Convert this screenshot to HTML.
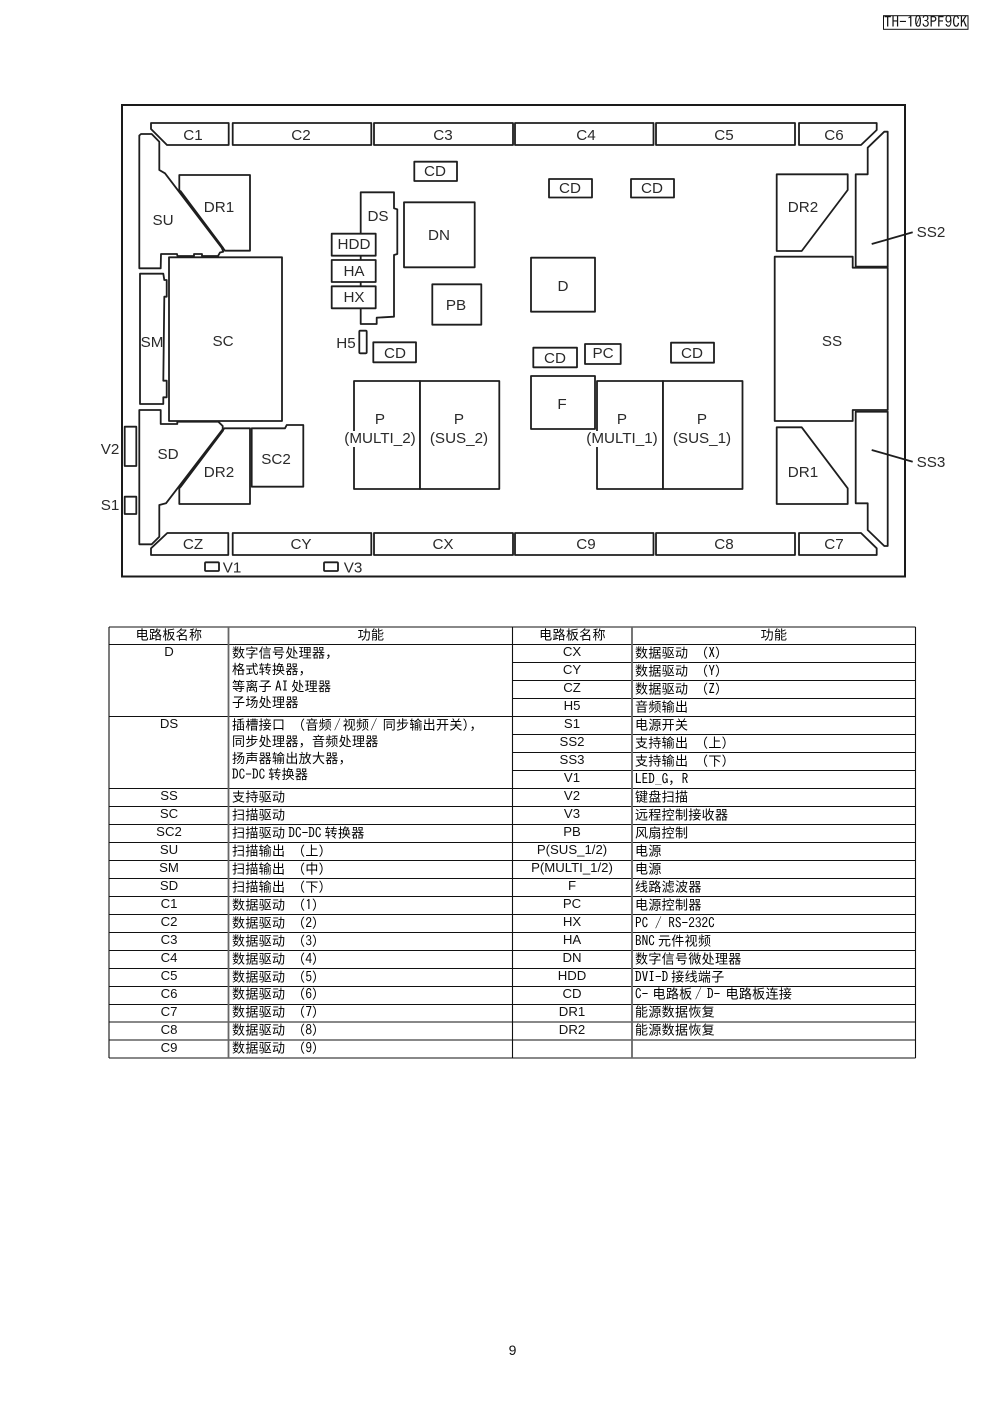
<!DOCTYPE html>
<html><head><meta charset="utf-8">
<style>
html,body{margin:0;padding:0;background:#fff;width:992px;height:1404px;overflow:hidden}
svg{display:block}
.s{fill:#fff;stroke:#1e1e1e;stroke-width:1.8;stroke-linejoin:round}
.n{fill:none;stroke:#1e1e1e;stroke-width:1.8}
.d text{font:15.2px "Liberation Sans",sans-serif;fill:#2a2a2a;text-anchor:middle}
.t line{stroke:#111;stroke-width:1.1}
.n1 text{font:13.2px "Liberation Sans",sans-serif;fill:#111;text-anchor:middle}
.c text{font:13px "WenQuanYi Zen Hei","Noto Sans CJK SC",sans-serif;letter-spacing:.33px;fill:#000;white-space:pre}
.c text.m{text-anchor:middle}
.l{font:13.3px "IPAGothic","Liberation Mono",monospace;letter-spacing:0}
.g{font:6px "IPAGothic","Liberation Mono",monospace;letter-spacing:0}
</style></head>
<body>
<svg width="992" height="1404" viewBox="0 0 992 1404" xmlns="http://www.w3.org/2000/svg">
<!-- header -->
<rect x="883.5" y="15.7" width="84.5" height="13.6" fill="#fff" stroke="#111" stroke-width="1"/>
<text x="925.7" y="27.5" text-anchor="middle" style="font:15.2px 'IPAGothic','Liberation Mono',monospace;fill:#111">TH-103PF9CK</text>
<!-- frame -->
<rect x="122" y="105" width="783" height="471.5" fill="#fff" stroke="#1a1a1a" stroke-width="2"/>
<!-- top row -->
<polygon class="s" points="151,123 228.7,123 228.7,145 167,145 151,129"/>
<rect class="s" x="232.7" y="123" width="138.6" height="22"/>
<rect class="s" x="374" y="123" width="139" height="22"/>
<rect class="s" x="515" y="123" width="138.5" height="22"/>
<rect class="s" x="656" y="123" width="139" height="22"/>
<polygon class="s" points="799,123 876.7,123 876.7,130 861,145 799,145"/>
<!-- bottom row -->
<polygon class="s" points="167.3,533 228.3,533 228.3,555 151,555 151,548.3"/>
<rect class="s" x="232.7" y="533" width="138.6" height="22"/>
<rect class="s" x="374" y="533" width="139" height="22"/>
<rect class="s" x="515" y="533" width="138.5" height="22"/>
<rect class="s" x="656" y="533" width="139" height="22"/>
<polygon class="s" points="799,533 861,533 876.7,548.3 876.7,555 799,555"/>
<!-- left side -->
<polygon class="s" points="139.3,135.5 141,134 151.7,134 159.3,141.7 159.3,170 165,173.3 221.7,247.7 223.3,251.7 220,252.5 218,256 202,256 202,254 194,254 194,256 177.5,256 177,254 161,254 160.7,268.3 139.3,268.3"/>
<polygon class="s" points="179.3,175 250,175 250,250.7 225,250.7 179.3,190"/>
<line class="n" x1="180" y1="191" x2="223" y2="248.5" style="stroke-width:2.6"/>
<polygon class="s" points="140,273.7 163.3,273.7 164.3,280 166.7,280 166.7,296.7 164.3,296.7 163.3,380.7 166.7,380.7 166.7,397.3 163.3,397.3 163.3,404 140,404"/>
<rect class="s" x="169" y="257.3" width="113" height="163.7"/>
<polygon class="s" points="139.3,410 160.7,410 160.7,424 177.3,424 177.3,421.7 218.3,421.7 222.7,426 222.7,429.3 166,503.3 159.3,505 159.3,536.7 151.7,544.3 139.3,544.3"/>
<polygon class="s" points="224.3,428.3 250,428.3 250,504 179.3,504 179.3,488.3"/>
<line class="n" x1="223" y1="430" x2="180" y2="487" style="stroke-width:2.6"/>
<polygon class="s" points="251.7,428.3 285,428.3 286.7,425 303.3,425 303.3,486.7 251.7,486.7"/>
<rect class="s" x="124.7" y="426.7" width="11.6" height="39.3"/>
<rect class="s" x="124.7" y="496.7" width="11.6" height="17.3"/>
<rect class="s" x="205" y="562.3" width="14" height="8.7" rx="1"/>
<rect class="s" x="324" y="562.3" width="14" height="8.7" rx="1"/>
<!-- center left -->
<polygon class="s" points="360.7,192.3 394,192.3 394,208.3 397.3,209.3 397.3,254 394,255 394,316.7 376.7,317.7 376.7,324 360.7,324"/>
<rect class="s" x="331.7" y="233.7" width="44" height="22"/>
<rect class="s" x="331.7" y="260" width="44" height="22"/>
<rect class="s" x="331.7" y="286.3" width="44" height="22"/>
<rect class="s" x="404" y="202.3" width="70.7" height="65"/>
<rect class="s" x="432.3" y="284.3" width="49" height="40.4"/>
<rect class="s" x="414.3" y="161.7" width="42.7" height="19.3"/>
<rect class="s" x="359.3" y="330.7" width="7.4" height="22.6" rx="1"/>
<rect class="s" x="373.3" y="342.3" width="42.7" height="20"/>
<rect class="s" x="549" y="179" width="43" height="18.5"/>
<rect class="s" x="631" y="179" width="43" height="18.5"/>
<rect class="s" x="531" y="257.7" width="64" height="54"/>
<rect class="s" x="533.3" y="347.7" width="43.7" height="19.6"/>
<rect class="s" x="585" y="344" width="35.7" height="20"/>
<rect class="s" x="671" y="342.7" width="43" height="20"/>
<rect class="s" x="597" y="381" width="66" height="108"/>
<rect class="s" x="663" y="381" width="79.5" height="108"/>
<rect class="s" x="531" y="376" width="64" height="53"/>
<rect class="s" x="354" y="381" width="66" height="108"/>
<rect class="s" x="420" y="381" width="79.3" height="108"/>
<!-- right side -->
<polygon class="s" points="855.7,174.3 867.7,174.3 867.7,147.7 884.3,131.7 887.7,131.7 887.7,266.7 855.7,266.7"/>
<polygon class="s" points="774.7,256.7 852.7,256.7 852.7,267.7 887.7,267.7 887.7,410 852.7,410 852.7,421 774.7,421"/>
<polygon class="s" points="855.7,411.7 887.7,411.7 887.7,546 884.3,546 867.7,530 867.7,503.3 855.7,503.3"/>
<polygon class="s" points="776.7,174.3 847.7,174.3 847.7,190 801.7,251 776.7,251"/>
<polygon class="s" points="776.7,427.3 801.7,427.3 847.7,488.3 847.7,504 776.7,504"/>
<line class="n" x1="871.7" y1="244" x2="912.7" y2="232.3"/>
<line class="n" x1="871.7" y1="450" x2="912.7" y2="461.7"/>
<!-- label backgrounds -->
<rect x="345" y="431" width="72" height="16" fill="#fff"/>
<rect x="587" y="431" width="72" height="16" fill="#fff"/>
<!-- diagram labels -->
<g class="d">
<text x="193" y="140">C1</text><text x="301" y="140">C2</text><text x="443" y="140">C3</text><text x="586" y="140">C4</text><text x="724" y="140">C5</text><text x="834" y="140">C6</text>
<text x="193" y="549">CZ</text><text x="301" y="549">CY</text><text x="443" y="549">CX</text><text x="586" y="549">C9</text><text x="724" y="549">C8</text><text x="834" y="549">C7</text>
<text x="163" y="225">SU</text><text x="219" y="212">DR1</text><text x="223" y="346">SC</text><text x="152" y="347">SM</text>
<text x="378" y="221">DS</text><text x="354" y="249">HDD</text><text x="354" y="276">HA</text><text x="354" y="302">HX</text>
<text x="439" y="240">DN</text><text x="456" y="310">PB</text><text x="435" y="176">CD</text><text x="570" y="193">CD</text><text x="652" y="193">CD</text>
<text x="395" y="358">CD</text><text x="555" y="363">CD</text><text x="603" y="358">PC</text><text x="692" y="358">CD</text>
<text x="563" y="291">D</text><text x="562" y="409">F</text><text x="832" y="346">SS</text>
<text x="803" y="212">DR2</text><text x="803" y="477">DR1</text><text x="931" y="237">SS2</text><text x="931" y="467">SS3</text>
<text x="346" y="348">H5</text><text x="110" y="454">V2</text><text x="110" y="510">S1</text>
<text x="168" y="459">SD</text><text x="219" y="477">DR2</text><text x="276" y="464">SC2</text>
<text x="232" y="572.5">V1</text><text x="353" y="572.5">V3</text>
<text x="380" y="424">P</text><text x="380" y="443">(MULTI_2)</text>
<text x="459" y="424">P</text><text x="459" y="443">(SUS_2)</text>
<text x="622" y="424">P</text><text x="622" y="443">(MULTI_1)</text>
<text x="702" y="424">P</text><text x="702" y="443">(SUS_1)</text>
</g>
<!-- table lines -->
<g class="t">
<line x1="109" y1="627" x2="915.5" y2="627"/><line x1="109" y1="644.5" x2="915.5" y2="644.5"/>
<line x1="512.5" y1="662.5" x2="915.5" y2="662.5"/><line x1="512.5" y1="680.5" x2="915.5" y2="680.5"/><line x1="512.5" y1="698.5" x2="915.5" y2="698.5"/>
<line x1="109" y1="716.5" x2="915.5" y2="716.5"/>
<line x1="512.5" y1="734.5" x2="915.5" y2="734.5"/><line x1="512.5" y1="752.5" x2="915.5" y2="752.5"/><line x1="512.5" y1="770.5" x2="915.5" y2="770.5"/>
<line x1="109" y1="788.5" x2="915.5" y2="788.5"/><line x1="109" y1="806.5" x2="915.5" y2="806.5"/><line x1="109" y1="824.5" x2="915.5" y2="824.5"/>
<line x1="109" y1="842.5" x2="915.5" y2="842.5"/><line x1="109" y1="860.5" x2="915.5" y2="860.5"/><line x1="109" y1="878.5" x2="915.5" y2="878.5"/>
<line x1="109" y1="896.5" x2="915.5" y2="896.5"/><line x1="109" y1="914.5" x2="915.5" y2="914.5"/><line x1="109" y1="932.5" x2="915.5" y2="932.5"/>
<line x1="109" y1="950.5" x2="915.5" y2="950.5"/><line x1="109" y1="968.5" x2="915.5" y2="968.5"/><line x1="109" y1="986.5" x2="915.5" y2="986.5"/>
<line x1="109" y1="1004.5" x2="915.5" y2="1004.5"/><line x1="109" y1="1022" x2="915.5" y2="1022"/><line x1="109" y1="1040" x2="915.5" y2="1040"/>
<line x1="109" y1="1058" x2="915.5" y2="1058"/>
<line x1="109" y1="627" x2="109" y2="1058"/><line x1="915.5" y1="627" x2="915.5" y2="1058"/><line x1="512.5" y1="627" x2="512.5" y2="1058"/>
<line x1="228.5" y1="627" x2="228.5" y2="1058" style="stroke:#666;stroke-width:1.8"/>
<line x1="632" y1="627" x2="632" y2="1058" style="stroke:#666;stroke-width:1.8"/>
</g>
<!-- table name columns -->
<g class="n1">
<text x="169" y="656">D</text><text x="169" y="728">DS</text><text x="169" y="800">SS</text><text x="169" y="818">SC</text><text x="169" y="836">SC2</text><text x="169" y="854">SU</text><text x="169" y="872">SM</text><text x="169" y="890">SD</text><text x="169" y="908">C1</text><text x="169" y="926">C2</text><text x="169" y="944">C3</text><text x="169" y="962">C4</text><text x="169" y="980">C5</text><text x="169" y="998">C6</text><text x="169" y="1016">C7</text><text x="169" y="1034">C8</text><text x="169" y="1052">C9</text>
<text x="572" y="656">CX</text><text x="572" y="674">CY</text><text x="572" y="692">CZ</text><text x="572" y="710">H5</text><text x="572" y="728">S1</text><text x="572" y="746">SS2</text><text x="572" y="764">SS3</text><text x="572" y="782">V1</text><text x="572" y="800">V2</text><text x="572" y="818">V3</text><text x="572" y="836">PB</text><text x="572" y="854">P(SUS_1/2)</text><text x="572" y="872">P(MULTI_1/2)</text><text x="572" y="890">F</text><text x="572" y="908">PC</text><text x="572" y="926">HX</text><text x="572" y="944">HA</text><text x="572" y="962">DN</text><text x="572" y="980">HDD</text><text x="572" y="998">CD</text><text x="572" y="1016">DR1</text><text x="572" y="1034">DR2</text>
</g>
<!-- table Chinese text -->
<g class="c">
<text class="m" x="169" y="639.5">电路板名称</text><text class="m" x="371" y="639.5">功能</text><text class="m" x="572.5" y="639.5">电路板名称</text><text class="m" x="774" y="639.5">功能</text>
<text x="232" y="657.5">数字信号处理器，</text>
<text x="232" y="674">格式转换器，</text>
<text x="232" y="691">等离子<tspan class="g"> </tspan><tspan class="l">AI</tspan><tspan class="g"> </tspan>处理器</text>
<text x="232" y="707">子场处理器</text>
<text x="232" y="729.5">插槽接口<tspan class="l"> </tspan>（音频<tspan class="l" x="334">/</tspan><tspan x="342.7">视频</tspan><tspan class="l" x="370.5">/</tspan><tspan x="382.7">同步输出开关），</tspan></text>
<text x="232" y="746">同步处理器，音频处理器</text>
<text x="232" y="763">扬声器输出放大器，</text>
<text x="232" y="779"><tspan class="l">DC-DC</tspan><tspan class="g"> </tspan>转换器</text>
<text x="232" y="801.5">支持驱动</text>
<text x="232" y="819.5">扫描驱动</text>
<text x="232" y="837.5">扫描驱动<tspan class="g"> </tspan><tspan class="l">DC-DC</tspan><tspan class="g"> </tspan>转换器</text>
<text x="232" y="855.5">扫描输出<tspan class="l"> </tspan>（上）</text>
<text x="232" y="873.5">扫描输出<tspan class="l"> </tspan>（中）</text>
<text x="232" y="891.5">扫描输出<tspan class="l"> </tspan>（下）</text>
<text x="232" y="909.5">数据驱动<tspan class="l"> </tspan>（<tspan class="l">1</tspan>）</text>
<text x="232" y="927.5">数据驱动<tspan class="l"> </tspan>（<tspan class="l">2</tspan>）</text>
<text x="232" y="945.5">数据驱动<tspan class="l"> </tspan>（<tspan class="l">3</tspan>）</text>
<text x="232" y="963.5">数据驱动<tspan class="l"> </tspan>（<tspan class="l">4</tspan>）</text>
<text x="232" y="981.5">数据驱动<tspan class="l"> </tspan>（<tspan class="l">5</tspan>）</text>
<text x="232" y="998.5">数据驱动<tspan class="l"> </tspan>（<tspan class="l">6</tspan>）</text>
<text x="232" y="1016.5">数据驱动<tspan class="l"> </tspan>（<tspan class="l">7</tspan>）</text>
<text x="232" y="1034.5">数据驱动<tspan class="l"> </tspan>（<tspan class="l">8</tspan>）</text>
<text x="232" y="1052.5">数据驱动<tspan class="l"> </tspan>（<tspan class="l">9</tspan>）</text>
<text x="635" y="657.5">数据驱动<tspan class="l"> </tspan>（<tspan class="l">X</tspan>）</text>
<text x="635" y="675.5">数据驱动<tspan class="l"> </tspan>（<tspan class="l">Y</tspan>）</text>
<text x="635" y="693.5">数据驱动<tspan class="l"> </tspan>（<tspan class="l">Z</tspan>）</text>
<text x="635" y="711.5">音频输出</text>
<text x="635" y="729.5">电源开关</text>
<text x="635" y="747.5">支持输出<tspan class="l"> </tspan>（上）</text>
<text x="635" y="765.5">支持输出<tspan class="l"> </tspan>（下）</text>
<text x="635" y="783.5"><tspan class="l">LED_G</tspan>，<tspan class="l">R</tspan></text>
<text x="635" y="801.5">键盘扫描</text>
<text x="635" y="819.5">远程控制接收器</text>
<text x="635" y="837.5">风扇控制</text>
<text x="635" y="855.5">电源</text>
<text x="635" y="873.5">电源</text>
<text x="635" y="891.5">线路滤波器</text>
<text x="635" y="909.5">电源控制器</text>
<text x="635" y="927.5"><tspan class="l">PC / RS-232C</tspan></text>
<text x="635" y="945.5"><tspan class="l">BNC</tspan><tspan class="g"> </tspan>元件视频</text>
<text x="635" y="963.5">数字信号微处理器</text>
<text x="635" y="981.5"><tspan class="l">DVI-D</tspan><tspan class="g"> </tspan>接线端子</text>
<text x="635" y="998.5"><tspan class="l">C-</tspan><tspan x="652.5">电路板</tspan><tspan class="l" x="695">/</tspan><tspan class="l" x="707">D-</tspan><tspan x="725.5">电路板连接</tspan></text>
<text x="635" y="1016.5">能源数据恢复</text>
<text x="635" y="1034.5">能源数据恢复</text>
</g>
<text x="512.5" y="1355" text-anchor="middle" style="font:14px 'Liberation Sans',sans-serif;fill:#111">9</text>
</svg>
</body></html>
